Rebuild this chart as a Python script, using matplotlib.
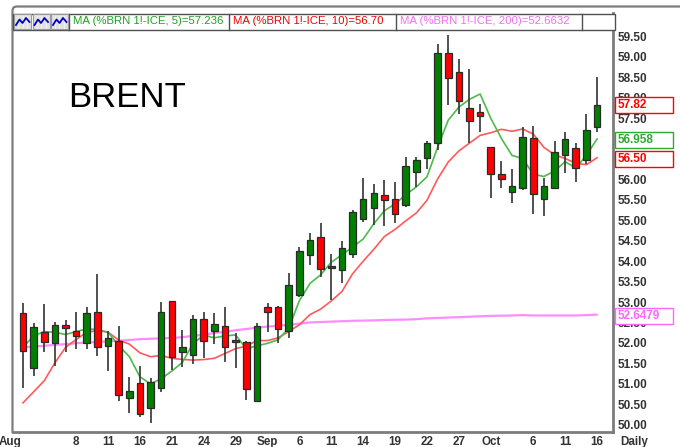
import numpy as np
import pandas as pd
import matplotlib
matplotlib.use('Agg')
import matplotlib.pyplot as plt
from matplotlib.patches import Rectangle
from matplotlib.lines import Line2D
import matplotlib.transforms as mtrans

plt.rcParams['font.family'] = ['Liberation Sans', 'DejaVu Sans']

# ---------------- data ----------------
dates = pd.bdate_range('2017-08-01', '2017-10-16')

opens = [52.74, 51.38, 52.27, 51.99, 52.43, 52.28, 51.99, 52.76, 51.93, 52.05,
         50.64, 51.01, 50.41, 50.90, 53.02, 51.78, 51.70, 52.58, 52.30, 52.42,
         52.06, 52.01, 50.58, 52.89, 52.89, 52.30, 53.16, 54.14, 54.58, 53.83,
         53.78, 54.18, 55.03, 55.30, 55.62, 55.52, 55.37, 56.19, 56.52, 56.90,
         59.10, 58.62, 57.74, 57.65, 56.79, 56.14, 55.69, 55.78, 57.02, 55.51,
         55.78, 56.60, 56.78, 56.48, 57.28]
highs = [52.97, 52.48, 52.94, 52.52, 52.56, 52.76, 52.89, 53.68, 52.29, 52.42,
         51.16, 51.43, 51.14, 53.01, 53.03, 52.31, 52.67, 52.75, 52.73, 52.89,
         52.23, 52.04, 52.48, 52.98, 52.90, 53.70, 54.35, 54.70, 54.93, 54.18,
         54.49, 55.25, 56.03, 55.89, 55.99, 55.93, 56.54, 56.56, 56.95, 59.32,
         59.54, 58.94, 58.70, 57.85, 56.80, 56.44, 56.25, 57.29, 57.32, 56.04,
         56.95, 57.16, 56.89, 57.60, 58.52]
lows = [50.89, 51.20, 51.78, 51.44, 51.78, 51.84, 51.84, 51.69, 51.32, 50.58,
        50.28, 50.18, 50.03, 50.79, 51.34, 51.42, 51.48, 51.64, 51.96, 51.54,
        51.38, 50.60, 50.57, 52.27, 52.00, 52.13, 53.12, 53.91, 53.61, 53.06,
        53.46, 54.07, 54.96, 54.89, 54.85, 54.93, 55.33, 55.82, 56.26, 56.73,
        57.82, 57.60, 56.90, 57.17, 55.54, 55.78, 55.42, 55.74, 55.15, 55.11,
        55.76, 56.17, 55.93, 56.37, 57.15]
closes = [51.80, 52.40, 52.01, 52.44, 52.37, 52.16, 52.74, 51.91, 52.13, 50.72,
          50.82, 50.26, 51.05, 52.76, 51.66, 51.89, 52.58, 52.04, 52.45, 51.89,
          52.01, 50.87, 52.42, 52.75, 52.34, 53.42, 54.24, 54.53, 53.80, 53.88,
          54.32, 55.20, 55.51, 55.66, 55.49, 55.15, 56.32, 56.47, 56.90, 59.09,
          58.48, 57.91, 57.43, 57.55, 56.13, 56.00, 55.83, 57.05, 55.64, 55.84,
          56.67, 56.98, 56.27, 57.21, 57.82]
# closes of the last days of July (needed for the moving averages)
prior_closes = [49.70, 49.30, 48.06, 48.60, 50.20, 51.00, 51.49, 52.52, 52.65]

ma200 = [51.89, 51.91, 51.93, 51.95, 51.97, 51.99, 52.01, 52.02, 52.04, 52.05,
         52.07, 52.09, 52.10, 52.11, 52.12, 52.14, 52.17, 52.20, 52.24, 52.27,
         52.31, 52.34, 52.37, 52.40, 52.42, 52.44, 52.47, 52.50, 52.51, 52.52,
         52.53, 52.54, 52.545, 52.55, 52.56, 52.565, 52.57, 52.58, 52.60, 52.61,
         52.62, 52.63, 52.64, 52.65, 52.66, 52.665, 52.67, 52.68, 52.67, 52.67,
         52.67, 52.67, 52.67, 52.68, 52.69]

tick_dates = ['2017-08-08', '2017-08-11', '2017-08-16', '2017-08-21', '2017-08-24',
              '2017-08-29', '2017-09-01', '2017-09-06', '2017-09-11', '2017-09-14',
              '2017-09-19', '2017-09-22', '2017-09-27', '2017-10-02', '2017-10-06',
              '2017-10-11', '2017-10-16']
tick_labels = ['8', '11', '16', '21', '24', '29', 'Sep', '6', '11', '14', '19', '22',
               '27', 'Oct', '6', '11', '16']
price_ticks = [50.0, 50.5, 51.0, 51.5, 52.0, 52.5, 53.0, 53.5, 54.0, 54.5, 55.0,
               55.5, 56.0, 56.5, 57.0, 57.5, 58.0, 58.5, 59.0, 59.5]

legend_texts = ['MA (%BRN 1!-ICE, 5)=57.236', 'MA (%BRN 1!-ICE, 10)=56.70',
                'MA (%BRN 1!-ICE, 200)=52.6632']
box_values = [57.82, 56.958, 56.50, 52.6479]
box_labels = ['57.82', '56.958', '56.50', '52.6479']

# ---------------- derived ----------------
x = np.arange(len(closes))
allc = pd.Series(prior_closes + closes)
ma5 = allc.rolling(5).mean().to_numpy()[len(prior_closes):]
ma10 = allc.rolling(10).mean().to_numpy()[len(prior_closes):]

W, H = 680, 447
fig = plt.figure(figsize=(W / 100, H / 100), dpi=100)


def fx(px):
    return px / W


def fy(py):
    return 1 - py / H


ax = fig.add_axes([fx(13), fy(432), 600 / W, 419 / H])
ax.set_xlim(-0.941, 55.5)
ax.set_ylim(49.818, 60.075)

GREEN = '#008000'
RED = '#ff0000'
C_MA5 = '#4cbb4c'
C_MA10 = '#ff5a5a'
C_MA200 = '#ff8cff'

ax.plot(x, ma200, color=C_MA200, lw=1.6, zorder=2, solid_capstyle='round')
ax.plot(x, ma10, color=C_MA10, lw=1.2, zorder=2)
ax.plot(x, ma5, color=C_MA5, lw=1.2, zorder=2)

o = np.array(opens); c = np.array(closes); h = np.array(highs); l = np.array(lows)
up = c >= o
ax.vlines(x, l, h, color='#333333', lw=1.2, zorder=3)
bottoms = np.minimum(o, c)
heights = np.maximum(np.abs(c - o), 0.04)
ax.bar(x, heights, bottom=bottoms, width=0.62,
       color=np.where(up, GREEN, RED), edgecolor='#2a2a2a', linewidth=0.9, zorder=4)

# spines
for s in ['top', 'left']:
    ax.spines[s].set_visible(False)
for s in ['bottom', 'right']:
    ax.spines[s].set_color('#7c7c7c')
    ax.spines[s].set_linewidth(2)

# price axis
ax.yaxis.tick_right()
ax.set_yticks(price_ticks)
ax.set_yticklabels([f'{v:.2f}' for v in price_ticks])
ax.tick_params(axis='y', length=0, pad=3.4, labelsize=8.5, labelcolor='#333333')
for t in ax.get_yticklabels():
    t.set_fontweight('bold')

# date axis
tick_idx = [dates.get_loc(pd.Timestamp(d)) for d in tick_dates]
ax.set_xticks(tick_idx)
ax.set_xticklabels(tick_labels)
ax.tick_params(axis='x', length=0, pad=2.6, labelsize=8.4, labelcolor='#333333')
for t in ax.get_xticklabels():
    t.set_fontweight('bold')

blend_x = mtrans.blended_transform_factory(ax.transData, ax.transAxes)
ax.text(-1.2, -0.0093, 'Aug', transform=blend_x, ha='center', va='top',
        fontsize=8.4, fontweight='bold', color='#333333', clip_on=False)
blend_y = mtrans.blended_transform_factory(ax.transAxes, ax.transData)
ax.text((620 - 13) / 600, -0.0093, 'Daily', transform=ax.transAxes, ha='left', va='top',
        fontsize=8.4, fontweight='bold', color='#333333', clip_on=False)

# value boxes on the price axis
box_colors = [RED, '#2eaa2e', RED, '#ff66ff']
box_h = 16 / 40.85
for v, lab, col in zip(box_values, box_labels, box_colors):
    ax.add_patch(Rectangle(((615 - 13) / 600, v - box_h / 2), 58 / 600, box_h,
                           transform=blend_y, facecolor='white', edgecolor=col,
                           lw=1.0, clip_on=False, zorder=10))
    ax.text((618 - 13) / 600, v, lab, transform=blend_y, ha='left', va='center',
            fontsize=8.5, fontweight='bold', color=col, clip_on=False, zorder=11)

# BRENT title
fig.text(fx(68), fy(107), 'BRENT', fontsize=25, color='black', ha='left', va='baseline')

# outer panel border
pts = [(12.5, 432), (12.5, 10), (13.5, 7.5), (16, 6.5), (680, 6.5)]
fig.add_artist(Line2D([fx(p[0]) for p in pts], [fy(p[1]) for p in pts],
                      transform=fig.transFigure, color='#7c7c7c', lw=1.6))

# legend bar
fig.add_artist(Rectangle((fx(13), fy(29.5)), 602 / W, 16 / H, transform=fig.transFigure,
                         facecolor='white', edgecolor='#505050', lw=1.0, zorder=5))
for sx in [69, 229, 396, 582]:
    fig.add_artist(Line2D([fx(sx), fx(sx)], [fy(13.5), fy(29.5)], transform=fig.transFigure,
                          color='#505050', lw=1.0, zorder=6))
for k in range(3):
    x0 = 14 + k * 18.5
    fig.add_artist(Rectangle((fx(x0), fy(28.5)), 17 / W, 14 / H, transform=fig.transFigure,
                             facecolor='#e2e2e2', edgecolor='#9a9a9a', lw=0.8, zorder=6))
    for gx in [x0 + 4, x0 + 8.5, x0 + 13]:
        fig.add_artist(Line2D([fx(gx), fx(gx)], [fy(15.5), fy(27.5)], transform=fig.transFigure,
                              color='#f4f4f4', lw=0.6, zorder=7))
    zz = [(x0 + 2, 25), (x0 + 5.5, 19.5), (x0 + 8.5, 23), (x0 + 12, 18), (x0 + 15.5, 22)]
    fig.add_artist(Line2D([fx(p[0]) for p in zz], [fy(p[1]) for p in zz],
                          transform=fig.transFigure, color='#0000c8', lw=1.3, zorder=8))

leg_colors = ['#1fa01f', '#f00000', '#f070f0']
leg_x = [73, 233, 400]
for tx, txt, col in zip(leg_x, legend_texts, leg_colors):
    fig.text(fx(tx), fy(21.5), txt, color=col, fontsize=8.2, ha='left', va='center', zorder=9)

fig.savefig('out.png', dpi=100)
